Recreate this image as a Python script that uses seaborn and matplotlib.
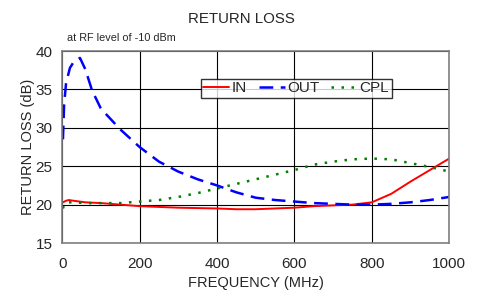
import pandas as pd
import numpy as np
import matplotlib.pyplot as plt
import seaborn as sns

# valori
freq_out = [2, 5, 10, 20, 30, 46, 60, 77, 100, 150, 200, 250, 300, 350, 400, 450,
            500, 550, 600, 650, 700, 750, 800, 850, 900, 950, 1000]
rl_out = [28.5, 33.0, 35.8, 37.8, 38.6, 39.1, 37.6, 34.9, 32.5, 29.8, 27.5, 25.6, 24.3,
          23.3, 22.5, 21.6, 20.9, 20.6, 20.4, 20.2, 20.1, 20.0, 20.0, 20.1, 20.3, 20.6, 21.0]

freq_in = [2, 10, 17, 30, 60, 100, 150, 200, 250, 300, 350, 400, 450, 500, 550, 600,
           650, 700, 750, 800, 850, 900, 950, 1000]
rl_in = [20.3, 20.5, 20.6, 20.5, 20.3, 20.2, 20.0, 19.8, 19.7, 19.6, 19.55, 19.5, 19.4,
         19.4, 19.5, 19.6, 19.8, 19.9, 20.0, 20.3, 21.4, 23.0, 24.5, 26.0]

freq_cpl = [2, 5, 10, 30, 60, 100, 150, 200, 250, 300, 350, 400, 450, 500, 550, 600,
            650, 700, 750, 800, 850, 900, 950, 1000]
rl_cpl = [19.5, 20.0, 20.3, 20.3, 20.2, 20.2, 20.2, 20.4, 20.6, 21.0, 21.5, 22.1, 22.7,
          23.3, 23.9, 24.5, 25.2, 25.6, 25.9, 26.0, 25.9, 25.4, 24.9, 24.3]

df = pd.concat([
    pd.DataFrame({'freq': freq_in, 'rl': rl_in, 'port': 'IN'}),
    pd.DataFrame({'freq': freq_out, 'rl': rl_out, 'port': 'OUT'}),
    pd.DataFrame({'freq': freq_cpl, 'rl': rl_cpl, 'port': 'CPL'}),
])

sns.set_style('white')
plt.rcParams['font.family'] = ['Liberation Sans', 'DejaVu Sans']

fig, ax = plt.subplots(figsize=(4.82, 2.90), dpi=100)
fig.subplots_adjust(left=0.129, right=0.932, top=0.824, bottom=0.162)

sns.lineplot(data=df, x='freq', y='rl', hue='port', sort=False,
             palette={'IN': '#ff0000', 'OUT': '#0000ff', 'CPL': '#008000'},
             ax=ax, legend=False)
lines = ax.get_lines()
lines[0].set_linewidth(1.4)
lines[1].set_linewidth(1.8)
lines[1].set_dashes([5.5, 3])
lines[2].set_linewidth(1.8)
lines[2].set_dashes([1, 3])

ax.set_xlim(0, 1000)
ax.set_ylim(15, 40)
ax.set_xticks(range(0, 1001, 200))
ax.set_yticks(range(15, 41, 5))
ax.grid(True, color='black', linewidth=0.8)
ax.set_axisbelow(True)
for s in ax.spines.values():
    s.set_color('#808080')
    s.set_linewidth(1.2)
ax.tick_params(axis='both', direction='out', length=3, color='#808080',
               labelsize=11)
ax.tick_params(axis='x', pad=7)
ax.tick_params(axis='y', pad=4)

ax.set_xlabel('FREQUENCY (MHz)', fontsize=10.5, labelpad=4)
ax.set_ylabel('RETURN LOSS (dB)', fontsize=10.5, labelpad=0)
fig.suptitle('RETURN LOSS', fontsize=10.8, y=0.96)
fig.text(0.139, 0.86, 'at RF level of -10 dBm', fontsize=7.8)

leg = ax.legend(lines, ['IN', 'OUT', 'CPL'], ncol=3, loc='center',
                bbox_to_anchor=(0.6045, 0.806), fontsize=11, frameon=True,
                fancybox=False, edgecolor='black', handlelength=1.7,
                handletextpad=0.15, columnspacing=0.8, borderpad=0.15,
                borderaxespad=0)
leg.get_frame().set_linewidth(1.0)

plt.savefig('out.png')
